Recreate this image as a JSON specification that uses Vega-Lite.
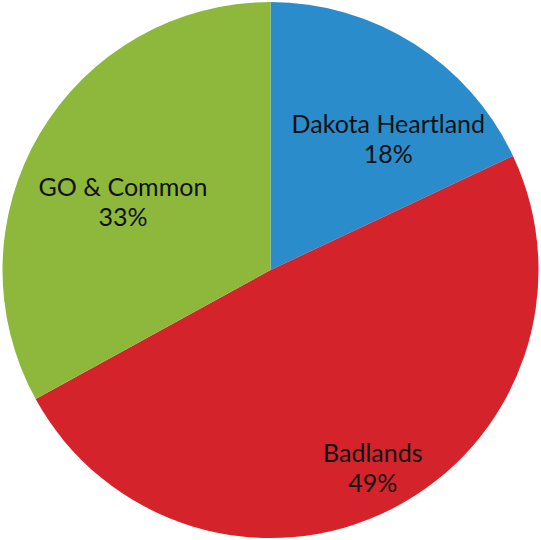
{
  "$schema": "https://vega.github.io/schema/vega-lite/v6.json",
  "width": 541,
  "height": 540,
  "autosize": {"type": "fit", "contains": "padding"},
  "padding": 0,
  "background": "white",
  "view": {"stroke": null},
  "data": {
    "values": [
      {"category": "Dakota Heartland", "value": 0.18, "rank": 1},
      {"category": "Badlands", "value": 0.49, "rank": 2},
      {"category": "GO & Common", "value": 0.33, "rank": 3}
    ]
  },
  "encoding": {
    "theta": {"field": "value", "type": "quantitative", "stack": true},
    "order": {"field": "rank", "type": "quantitative", "sort": "ascending"},
    "detail": {"field": "category", "type": "nominal"}
  },
  "layer": [
    {
      "mark": {"type": "arc", "outerRadius": 268, "stroke": null},
      "encoding": {
        "color": {
          "field": "category",
          "type": "nominal",
          "scale": {
            "domain": ["Dakota Heartland", "Badlands", "GO & Common"],
            "range": ["#2a8ccb", "#d4232b", "#8db83c"]
          },
          "legend": null
        }
      }
    },
    {
      "mark": {"type": "text", "radius": 190, "dx": 16, "dy": 15, "font": "Lato", "fontSize": 25, "color": "#111111", "align": "center", "baseline": "middle"},
      "encoding": {"text": {"field": "category", "type": "nominal"}}
    },
    {
      "mark": {"type": "text", "radius": 190, "dx": 16, "dy": 45, "font": "Lato", "fontSize": 25, "color": "#111111", "align": "center", "baseline": "middle"},
      "encoding": {"text": {"field": "value", "type": "quantitative", "format": ".0%"}}
    }
  ]
}
